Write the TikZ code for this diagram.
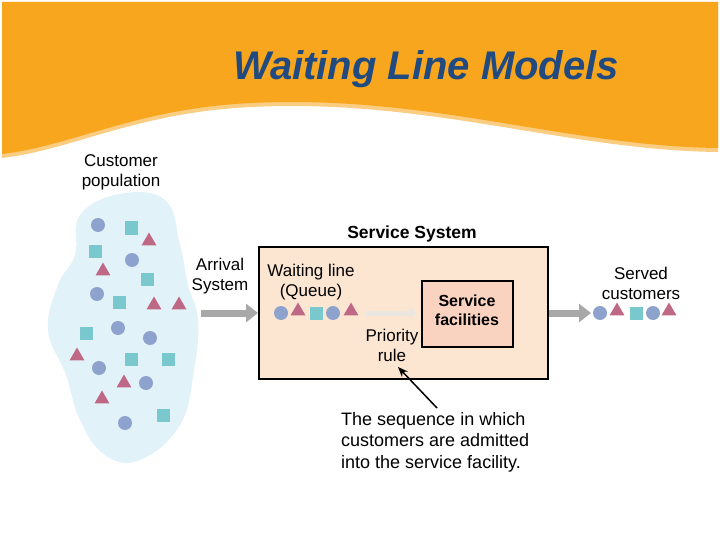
\documentclass[tikz,border=0pt]{standalone}
\usepackage{fontspec}
\setmainfont{Liberation Sans}
\usetikzlibrary{shapes.geometric,arrows.meta}
\definecolor{bannerorange}{RGB}{247,166,30}
\definecolor{banneredge}{RGB}{251,205,130}
\definecolor{titleblue}{RGB}{33,74,128}
\definecolor{blobblue}{RGB}{226,242,249}
\definecolor{dotblue}{RGB}{142,162,206}
\definecolor{sqteal}{RGB}{120,200,206}
\definecolor{trimauve}{RGB}{190,104,134}
\definecolor{sysfill}{RGB}{252,230,210}
\definecolor{facfill}{RGB}{250,210,192}
\definecolor{arrowgray}{RGB}{168,168,168}
\definecolor{faintgray}{RGB}{234,230,224}
\tikzset{
  dot/.style={circle,fill=dotblue,minimum size=14pt,inner sep=0pt},
  sq/.style={rectangle,fill=sqteal,minimum size=13pt,inner sep=0pt},
  tri/.style={regular polygon,regular polygon sides=3,fill=trimauve,minimum size=17pt,inner sep=0pt},
  lbl/.style={font=\fontsize{17}{20}\selectfont,align=center,inner sep=0pt},
  blbl/.style={font=\fontsize{16}{19}\selectfont\bfseries,align=center,inner sep=0pt},
  grayarrow/.style={draw=arrowgray,line width=7pt,-{Triangle[length=12pt,width=18pt]}},
}
\begin{document}
\begin{tikzpicture}[x=1pt,y=-1pt]
\useasboundingbox (0,0) rectangle (720,540);
\fill[white] (0,0) rectangle (720,540);
% banner
\fill[banneredge] (2,2) -- (718,2) -- (718,152) .. controls (560,150) and (420,95) .. (235,108) .. controls (130,116) and (70,150) .. (2,158) -- cycle;
\fill[bannerorange] (2,2) -- (718,2) -- (718,148) .. controls (560,146) and (420,91) .. (235,104) .. controls (130,112) and (70,146) .. (2,154) -- cycle;
\node[font=\fontsize{40}{44}\selectfont\bfseries\itshape,text=titleblue,inner sep=0pt] (title) at (426,69) {Waiting Line Models};
% customer population
\node[lbl] (pop) at (121,172) {Customer\\population};
\fill[blobblue] plot[smooth cycle,tension=0.7] coordinates {(120,194) (165,200) (180,245) (188,285) (198,320) (194,370) (180,425) (140,460) (105,455) (80,420) (66,375) (48,330) (58,285) (75,255) (80,215)};
\foreach \n/\x/\y in {1/98/225,2/132/260,3/97/294,4/118/328,5/150/338,6/99/368,7/146/383,8/125/423}
  \node[dot] (pc\n) at (\x,\y) {};
\foreach \n/\x/\y in {1/131/228,2/95/251,3/147/279,4/119/302,5/86/333,6/131/359,7/168/359,8/163/415}
  \node[sq] (ps\n) at (\x,\y) {};
\foreach \n/\x/\y in {1/149/241,2/103/271,3/154/305,4/179/305,5/77/356,6/124/383,7/102/399}
  \node[tri] (pt\n) at (\x,\y) {};
% arrival
\node[lbl] (arr) at (220,276) {Arrival\\System};
\coordinate (arrS) at (201,313);
% service system
\node[blbl,font=\fontsize{17.5}{20}\selectfont\bfseries] (sstitle) at (412,234) {Service System};
\node[draw=black,line width=2pt,fill=sysfill,minimum width=289pt,minimum height=132pt,inner sep=0pt] (sys) at (403.5,313) {};
\draw[grayarrow] (arrS) -- (sys.west);
\node[lbl] (wl) at (311,282) {Waiting line\\(Queue)};
\node[dot] (q1) at (281,313) {};
\node[tri] (q2) at (298,311) {};
\node[sq] (q3) at (316,313) {};
\node[dot] (q4) at (333,313) {};
\node[tri] (q5) at (351,311) {};
\node[draw=black,line width=1.5pt,fill=facfill,minimum width=91pt,minimum height=66pt,inner sep=0pt] (fac) at (467.5,314) {};
\node[blbl] (factxt) at (467,310) {Service\\facilities};
\coordinate (fa) at (365,313);
\draw[draw=faintgray,line width=5pt,-{Triangle[length=8pt,width=12pt]}] (fa) -- (417,313);
\node[lbl] (prio) at (392,345) {Priority\\rule};
% served
\coordinate (srvE) at (591,313);
\draw[grayarrow] (sys.east) -- (srvE);
\node[lbl] (served) at (641,283) {Served\\customers};
\node[dot] (s1) at (600,313) {};
\node[tri] (s2) at (617,311) {};
\node[sq] (s3) at (636,313) {};
\node[dot] (s4) at (653,313) {};
\node[tri] (s5) at (669,311) {};
% annotation
\node[lbl,font=\fontsize{18}{21.5}\selectfont,align=left,anchor=north west] (note) at (341,412) {The sequence in which\\customers are admitted\\into the service facility.};
\coordinate (pt) at (437,408);
\draw[line width=1.5pt,-{Stealth[length=10pt,width=8pt]}] (pt) -- (398,367);
\end{tikzpicture}
\end{document}
